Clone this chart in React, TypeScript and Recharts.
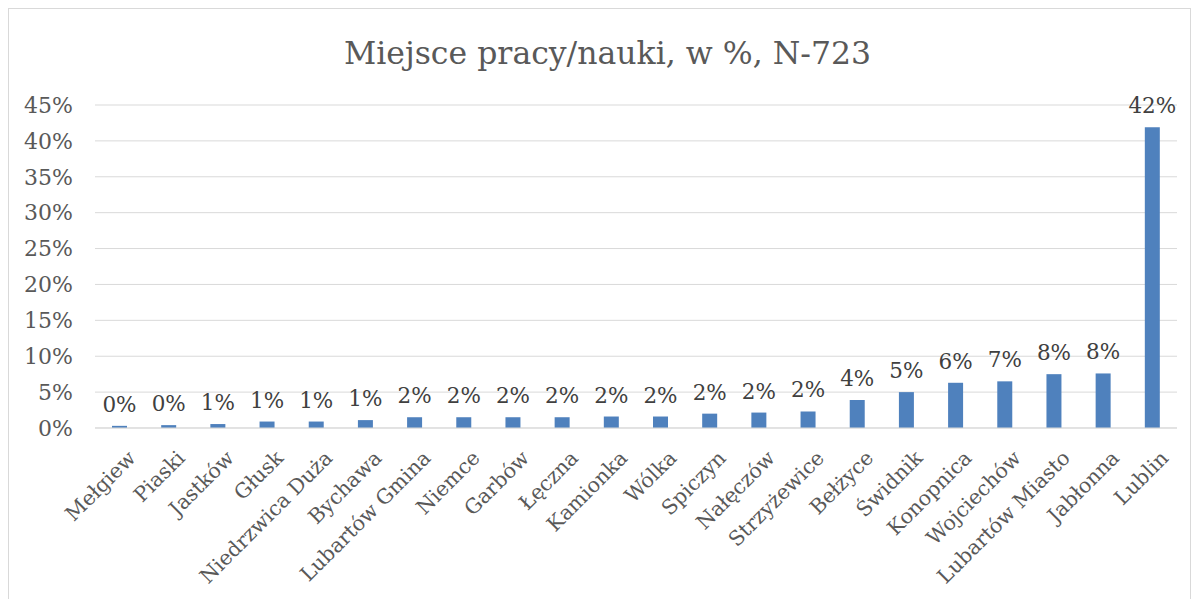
import { BarChart, Bar, XAxis, YAxis, CartesianGrid, LabelList } from 'recharts';

const places = [
  'Mełgiew', 'Piaski', 'Jastków', 'Głusk', 'Niedrzwica Duża', 'Bychawa', 'Lubartów Gmina',
  'Niemce', 'Garbów', 'Łęczna', 'Kamionka', 'Wólka', 'Spiczyn', 'Nałęczów', 'Strzyżewice',
  'Bełżyce', 'Świdnik', 'Konopnica', 'Wojciechów', 'Lubartów Miasto', 'Jabłonna', 'Lublin',
];
const shares = [
  0.3, 0.4, 0.55, 0.9, 0.9, 1.1, 1.5, 1.5, 1.5, 1.5, 1.6, 1.6, 2.0, 2.15, 2.3,
  3.9, 5.0, 6.3, 6.5, 7.5, 7.6, 41.9,
];
const yTicks = [0, 5, 10, 15, 20, 25, 30, 35, 40, 45];

const data = places.map((place, i) => ({ place, share: shares[i] }));

const FONT = '"DejaVu Serif", serif';
const TEXT = '#595959';

function PlaceTick({ x, y, payload }: any) {
  const tx = x + 7;
  const ty = y + 13;
  return (
    <text
      x={tx}
      y={ty}
      transform={`rotate(-45, ${tx}, ${ty})`}
      textAnchor="end"
      dy="0.71em"
      fill={TEXT}
      fontSize={20.5}
      fontFamily={FONT}
    >
      {payload.value}
    </text>
  );
}

export default function App() {
  return (
    <div
      style={{
        position: 'relative',
        width: 1181,
        height: 600,
        border: '1px solid #d9d9d9',
        background: '#fff',
        fontFamily: FONT,
      }}
    >
      <div
        style={{
          position: 'absolute',
          top: 26,
          left: 8,
          width: '100%',
          textAlign: 'center',
          fontSize: 31.5,
          color: TEXT,
        }}
      >
        Miejsce pracy/nauki, w %, N-723
      </div>
      <BarChart
        width={1181}
        height={590}
        data={data}
        margin={{ top: 96, right: 13, bottom: 0, left: 0 }}
        barCategoryGap={0}
      >
        <CartesianGrid vertical={false} stroke="#d9d9d9" />
        <XAxis
          dataKey="place"
          interval={0}
          height={171}
          tickLine={false}
          axisLine={{ stroke: '#d9d9d9' }}
          tick={<PlaceTick />}
        />
        <YAxis
          width={86}
          domain={[0, 45]}
          ticks={yTicks}
          axisLine={false}
          tickLine={false}
          tickSize={0}
          tickMargin={22}
          tickFormatter={(v: number) => `${v}%`}
          tick={{ fill: TEXT, fontSize: 22, fontFamily: FONT }}
        />
        <Bar dataKey="share" fill="#4f81bd" barSize={15} isAnimationActive={false}>
          <LabelList
            dataKey="share"
            position="top"
            offset={14}
            formatter={(v: any) => `${Math.round(Number(v))}%`}
            fill="#404040"
            fontSize={21.5}
            fontFamily={FONT}
          />
        </Bar>
      </BarChart>
    </div>
  );
}
